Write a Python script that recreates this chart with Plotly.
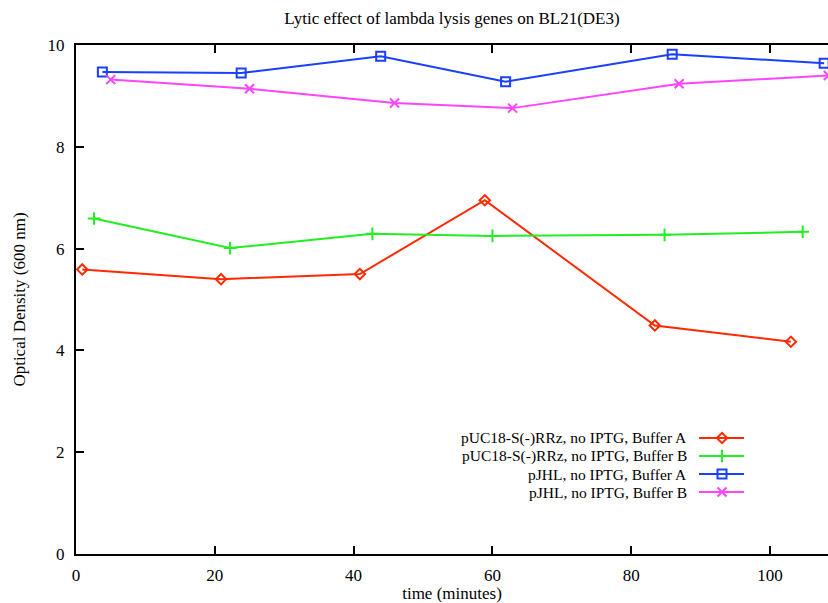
import plotly.graph_objects as go

# Data
red_x = [0.9, 20.9, 40.9, 58.9, 83.4, 103.0]
red_y = [5.59, 5.40, 5.50, 6.95, 4.49, 4.17]
green_x = [2.6, 22.2, 42.7, 60.0, 84.8, 104.7]
green_y = [6.59, 6.01, 6.29, 6.25, 6.27, 6.33]
blue_x = [3.8, 23.8, 43.9, 61.9, 85.9, 107.8]
blue_y = [9.47, 9.45, 9.78, 9.28, 9.82, 9.64]
mag_x = [5.0, 25.0, 45.9, 62.9, 86.9, 108.4]
mag_y = [9.32, 9.14, 8.86, 8.76, 9.24, 9.40]

names = ["pUC18-S(-)RRz, no IPTG, Buffer A",
         "pUC18-S(-)RRz, no IPTG, Buffer B",
         "pJHL, no IPTG, Buffer A",
         "pJHL, no IPTG, Buffer B"]
colors = ["#ff2a00", "#22ee22", "#1a3fff", "#ff44ff"]
symbols = ["diamond-open", "cross-thin-open", "square-open", "x-thin-open"]
sizes = [8, 9, 9, 9]

xs = [red_x, green_x, blue_x, mag_x]
ys = [red_y, green_y, blue_y, mag_y]

FONT = "Liberation Serif"

fig = go.Figure()
for x, y, n, c, s, sz in zip(xs, ys, names, colors, symbols, sizes):
    fig.add_trace(go.Scatter(
        x=x, y=y, mode="lines+markers", name=n,
        line=dict(color=c, width=2),
        marker=dict(symbol=s, size=sz, color=c, line=dict(color=c, width=2)),
        showlegend=False, cliponaxis=True))

# Manual gnuplot-style legend (text right-aligned, sample on the right)
W, H = 828, 603
ml, mr, mt, mb = 76, 0, 45, 49
pw, ph = W - ml - mr, H - mt - mb
def px(xp):
    return (xp - ml) / pw
def py(yp):
    return (H - mb - yp) / ph

leg_rows = [438, 456, 474, 492]
for yr, n, c, s, sz in zip(leg_rows, names, colors, symbols, sizes):
    fig.add_annotation(x=px(688), y=py(yr), xref="paper", yref="paper",
                       text=n, showarrow=False, xanchor="right", yanchor="middle",
                       borderpad=0,
                       font=dict(family=FONT, size=15.5, color="black"))
    fig.add_trace(go.Scatter(
        x=[px(699), px(744)], y=[py(yr), py(yr)], xaxis="x2", yaxis="y2",
        mode="lines", line=dict(color=c, width=2), showlegend=False, hoverinfo="skip"))
    fig.add_trace(go.Scatter(
        x=[px(722)], y=[py(yr)], xaxis="x2", yaxis="y2",
        mode="markers", marker=dict(symbol=s, size=sz, color=c, line=dict(color=c, width=2)),
        showlegend=False, hoverinfo="skip"))

fig.update_layout(
    width=W, height=H,
    margin=dict(l=ml, r=mr, t=mt, b=mb),
    paper_bgcolor="white", plot_bgcolor="white",
    font=dict(family=FONT, size=17, color="black"),
    title=dict(text="Lytic effect of lambda lysis genes on BL21(DE3)",
               x=(ml + pw / 2) / W, xanchor="center", y=1 - 18 / H, yanchor="middle",
               font=dict(family=FONT, size=17)),
    xaxis=dict(range=[0, 108.35], tickvals=[0, 20, 40, 60, 80, 100],
               showgrid=False, zeroline=False, showline=True, linecolor="black", linewidth=2,
               mirror="ticks", ticks="inside", ticklen=8, tickwidth=2, tickcolor="black",
               ticklabelstandoff=5, tickfont=dict(family=FONT, size=17),
               title=dict(text="time (minutes)", font=dict(family=FONT, size=17), standoff=5)),
    yaxis=dict(range=[0, 10], tickvals=[0, 2, 4, 6, 8, 10],
               showgrid=False, zeroline=False, showline=True, linecolor="black", linewidth=2,
               ticks="inside", ticklen=8, tickwidth=2, tickcolor="black",
               ticklabelstandoff=6, tickfont=dict(family=FONT, size=17),
               title=dict(text="Optical Density (600 nm)", font=dict(family=FONT, size=17), standoff=18)),
    xaxis2=dict(range=[0, 1], overlaying="x", visible=False, fixedrange=True),
    yaxis2=dict(range=[0, 1], overlaying="y", visible=False, fixedrange=True),
)

fig.write_html("out.html")
